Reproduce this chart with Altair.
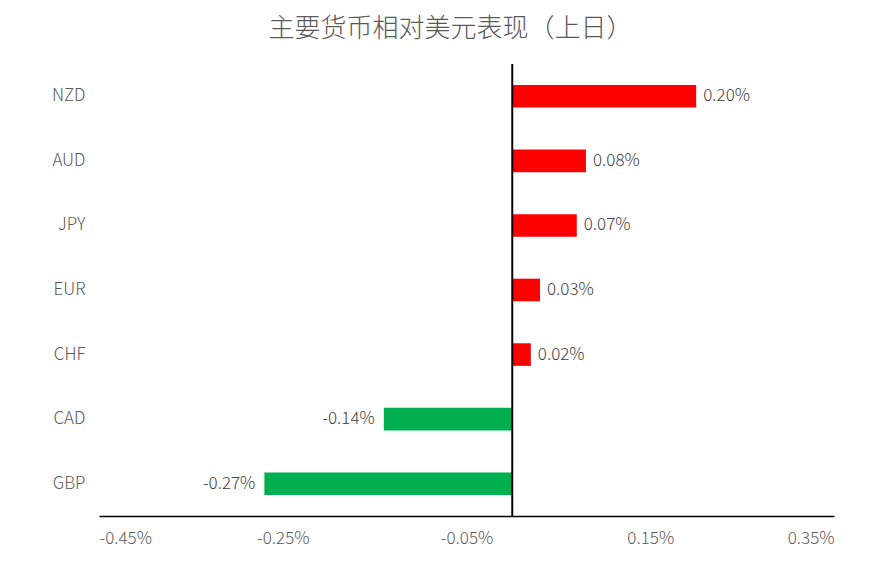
import altair as alt
import pandas as pd

currencies = ['NZD', 'AUD', 'JPY', 'EUR', 'CHF', 'CAD', 'GBP']
changes = [0.20, 0.08, 0.07, 0.03, 0.02, -0.14, -0.27]
x_ticks = [-0.45, -0.25, -0.05, 0.15, 0.35]

df = pd.DataFrame({'currency': currencies, 'change': changes})
df['label'] = [f'{v:.2f}%' for v in df['change']]

font = 'Noto Sans CJK SC'
gray = '#595959'

x_enc = alt.X('change:Q',
              scale=alt.Scale(domain=[-0.45, 0.35], nice=False, zero=False),
              axis=alt.Axis(values=x_ticks, title=None, grid=False, ticks=False,
                            domainColor='black', domainWidth=1.5,
                            labelExpr="(datum.value < 0 ? '-' : '') + format(abs(datum.value), '.2f') + '%'",
                            labelPadding=14, labelFontSize=17, labelColor=gray,
                            labelFont=font, labelFontWeight=300))
y_enc = alt.Y('currency:N', sort=currencies,
              scale=alt.Scale(paddingInner=0.65, paddingOuter=0.325),
              axis=alt.Axis(title=None, domain=False, ticks=False,
                            labelPadding=14, labelFontSize=17, labelColor=gray,
                            labelFont=font, labelFontWeight=300))

base = alt.Chart(df).encode(y=y_enc)

bars = base.mark_bar().encode(
    x=x_enc,
    x2=alt.datum(0),
    color=alt.condition('datum.change > 0', alt.value('#FF0000'), alt.value('#00B050'))
)

pos_labels = base.transform_filter('datum.change > 0').mark_text(
    align='left', dx=7, font=font, fontSize=17, fontWeight=300, color='#404040'
).encode(x='change:Q', text='label:N')

neg_labels = base.transform_filter('datum.change < 0').mark_text(
    align='right', dx=-9, font=font, fontSize=17, fontWeight=300, color='#404040'
).encode(x='change:Q', text='label:N')

zero_line = alt.Chart(df).mark_rule(color='black', strokeWidth=1.2).encode(x=alt.datum(0))

chart = alt.layer(bars, pos_labels, neg_labels, zero_line).properties(
    width=735, height=452,
    autosize=alt.AutoSizeParams(type='none'),
    padding={'left': 91, 'top': 56, 'right': 40, 'bottom': 40},
    title=alt.TitleParams('主要货币相对美元表现（上日）', font=font, fontSize=26,
                          fontWeight=300, color=gray, anchor='middle',
                          dx=-16, offset=21)
).configure_view(stroke=None)

chart.save("out.html", embed_options={"renderer": "svg", "actions": False})
